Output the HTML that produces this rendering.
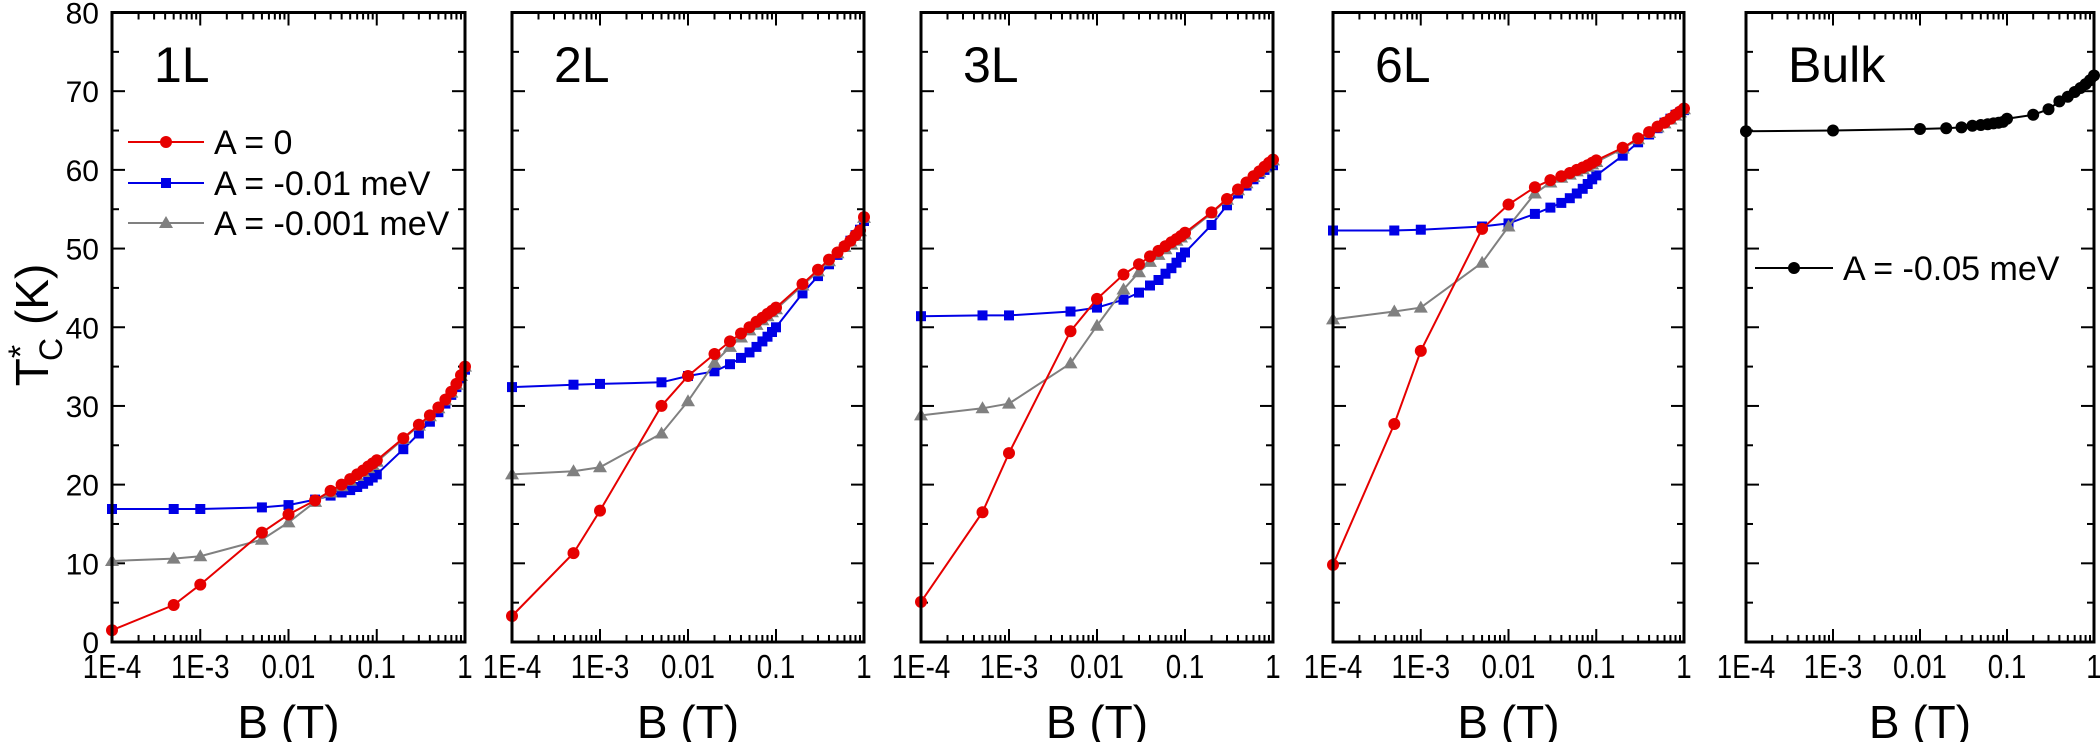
<!DOCTYPE html>
<html><head><meta charset="utf-8"><style>
html,body{margin:0;padding:0;background:#fff;}
svg{display:block;font-family:"Liberation Sans",Arial,sans-serif;}
</style></head><body>
<svg id="s" width="2100" height="742" viewBox="0 0 2100 742" xmlns="http://www.w3.org/2000/svg"></svg>
<script>
(function(){
const S=document.getElementById('s');
let h='';
const T0=12.5,B0=642;
const Y=v=>B0-(v)*(B0-T0)/80;
const panels=[[112,465,'1L'],[512,864,'2L'],[921,1273,'3L'],[1333,1684,'6L'],[1746,2094,'Bulk']];
const xs=[1e-4,5e-4,1e-3,5e-3,0.01,0.02,0.03,0.04,0.05,0.06,0.07,0.08,0.09,0.1,0.2,0.3,0.4,0.5,0.6,0.7,0.8,0.9,1];
const data=[
 {r:[1.5,4.7,7.3,13.9,16.2,18.0,19.2,20.0,20.7,21.3,21.8,22.3,22.7,23.1,25.9,27.6,28.8,29.8,30.8,31.8,32.8,33.9,35],
  b:[16.9,16.9,16.9,17.1,17.4,18.1,18.6,19.0,19.3,19.7,20.1,20.5,20.9,21.3,24.5,26.5,28,29.2,30.3,31.4,32.4,33.5,34.6],
  g:[10.3,10.6,10.9,13,15.2,17.8,19.0,19.8,20.5,21.1,21.6,22.1,22.5,22.9,25.8,27.5,28.7,29.7,30.7,31.7,32.7,33.8,35]},
 {r:[3.3,11.3,16.7,30,33.8,36.6,38.2,39.2,40,40.7,41.2,41.7,42.1,42.5,45.5,47.3,48.6,49.5,50.3,51,51.7,52.3,54],
  b:[32.4,32.7,32.8,33.0,33.8,34.4,35.3,36.1,36.8,37.5,38.2,38.8,39.4,40,44.3,46.5,48,49.2,50.2,51,51.7,52.4,53.5],
  g:[21.3,21.7,22.2,26.5,30.6,35.5,37.5,38.7,39.6,40.3,40.9,41.4,41.9,42.3,45.3,47.1,48.4,49.4,50.2,50.9,51.6,52.2,53.9]},
 {r:[5.1,16.5,24,39.5,43.6,46.7,48,49,49.7,50.3,50.8,51.2,51.6,52,54.6,56.3,57.5,58.4,59.2,59.8,60.4,60.9,61.3],
  b:[41.4,41.5,41.5,42,42.5,43.5,44.4,45.3,46,46.8,47.5,48.2,48.9,49.5,53,55.5,57,58,58.8,59.5,60,60.4,60.6],
  g:[28.8,29.7,30.3,35.4,40.2,44.8,47,48.3,49.2,49.9,50.5,51,51.4,51.8,54.5,56.2,57.4,58.3,59.1,59.7,60.3,60.8,61.2]},
 {r:[9.8,27.7,37,52.5,55.6,57.8,58.7,59.2,59.6,60,60.3,60.6,60.9,61.2,62.8,64,64.8,65.5,66,66.5,67,67.4,67.8],
  b:[52.3,52.3,52.4,52.8,53.2,54.4,55.2,55.8,56.4,57,57.6,58.2,58.8,59.3,61.8,63.5,64.5,65.3,66,66.5,67,67.3,67.6],
  g:[41,42,42.5,48.2,52.8,57,58.4,59,59.4,59.8,60.1,60.4,60.7,61,62.7,63.9,64.7,65.4,65.9,66.4,66.9,67.3,67.7]}
];
const bulkX=[1e-4,1e-3,0.01,0.02,0.03,0.04,0.05,0.06,0.07,0.08,0.09,0.1,0.2,0.3,0.4,0.5,0.6,0.7,0.8,0.9,1];
const bulkY=[64.9,65,65.2,65.3,65.4,65.6,65.7,65.8,65.9,66.0,66.1,66.5,67,67.7,68.7,69.3,69.9,70.4,70.9,71.4,72];
function X(p,b){return p[0]+(Math.log10(b)+4)*(p[1]-p[0])/4;}
function circ(x,y,c){return '<circle cx="'+x+'" cy="'+y+'" r="6" fill="'+c+'"/>';}
function sq(x,y,c){return '<rect x="'+(x-5)+'" y="'+(y-5)+'" width="10" height="10" fill="'+c+'"/>';}
function tri(x,y,c){return '<polygon points="'+x+','+(y-7)+' '+(x-7)+','+(y+5)+' '+(x+7)+','+(y+5)+'" fill="'+c+'"/>';}
function series(p,xv,yv,c,mk){
  const pts=xv.map((b,i)=>[X(p,b),Y(yv[i])]);
  let s='<polyline fill="none" stroke="'+c+'" stroke-width="2" points="'+pts.map(q=>q[0].toFixed(1)+','+q[1].toFixed(1)).join(' ')+'"/>';
  pts.forEach(q=>{s+=mk(+q[0].toFixed(1),+q[1].toFixed(1),c);});
  return s;
}
panels.forEach((p,pi)=>{
  const l=p[0],r=p[1],lab=p[2];
  let g='';
  for(let d=0;d<4;d++){for(let m=1;m<=9;m++){const b=Math.pow(10,d-4)*m;const x=X(p,b);const len=m==1?13:7;
    g+='<line x1="'+x+'" y1="'+B0+'" x2="'+x+'" y2="'+(B0-len)+'" stroke="#000" stroke-width="2"/>';
    g+='<line x1="'+x+'" y1="'+T0+'" x2="'+x+'" y2="'+(T0+len)+'" stroke="#000" stroke-width="2"/>';}}
  for(let v=0;v<=80;v+=5){const y=Y(v);const len=v%10==0?13:7;
    g+='<line x1="'+l+'" y1="'+y+'" x2="'+(l+len)+'" y2="'+y+'" stroke="#000" stroke-width="2"/>';
    g+='<line x1="'+r+'" y1="'+y+'" x2="'+(r-len)+'" y2="'+y+'" stroke="#000" stroke-width="2"/>';}
  if(pi<4){const d=data[pi];
    g+=series(p,xs,d.b,'#0000e6',sq);
    g+=series(p,xs,d.g,'#808080',tri);
    g+=series(p,xs,d.r,'#e60000',circ);
  } else {
    g+=series(p,bulkX,bulkY,'#000',circ);
  }
  g+='<rect x="'+l+'" y="'+T0+'" width="'+(r-l)+'" height="'+(B0-T0)+'" fill="none" stroke="#000" stroke-width="3"/>';
  const tl=['1E-4','1E-3','0.01','0.1','1'];
  tl.forEach((t,i)=>{const x=l+i*(r-l)/4;g+='<text transform="translate('+x+',678) scale(0.84,1)" font-size="33" text-anchor="middle">'+t+'</text>';});
  g+='<text x="'+((l+r)/2)+'" y="738" font-size="46" text-anchor="middle">B (T)</text>';
  g+='<text x="'+(l+42)+'" y="82" font-size="50">'+lab+'</text>';
  h+=g;
});
for(let v=0;v<=80;v+=10){h+='<text x="99" y="'+(Y(v)+11)+'" font-size="30" text-anchor="end">'+v+'</text>';}
h+='<text transform="translate(48,325) rotate(-90)" font-size="46" text-anchor="middle">T<tspan font-size="34" dy="-16">*</tspan><tspan font-size="32" dy="30" dx="-16">C</tspan><tspan dy="-14"> (K)</tspan></text>';
const leg=[['#e60000',circ,'A = 0',142],['#0000e6',sq,'A = -0.01 meV',183],['#808080',tri,'A = -0.001 meV',223]];
leg.forEach(a=>{h+='<line x1="128" y1="'+a[3]+'" x2="204" y2="'+a[3]+'" stroke="'+a[0]+'" stroke-width="2"/>'+a[1](166,a[3],a[0])+'<text x="214" y="'+(a[3]+12)+'" font-size="34">'+a[2]+'</text>';});
h+='<line x1="1755" y1="268" x2="1833" y2="268" stroke="#000" stroke-width="2"/>'+circ(1794,268,'#000')+'<text x="1843" y="280" font-size="34">A = -0.05 meV</text>';
S.innerHTML=h;
})();
</script>
</body></html>
